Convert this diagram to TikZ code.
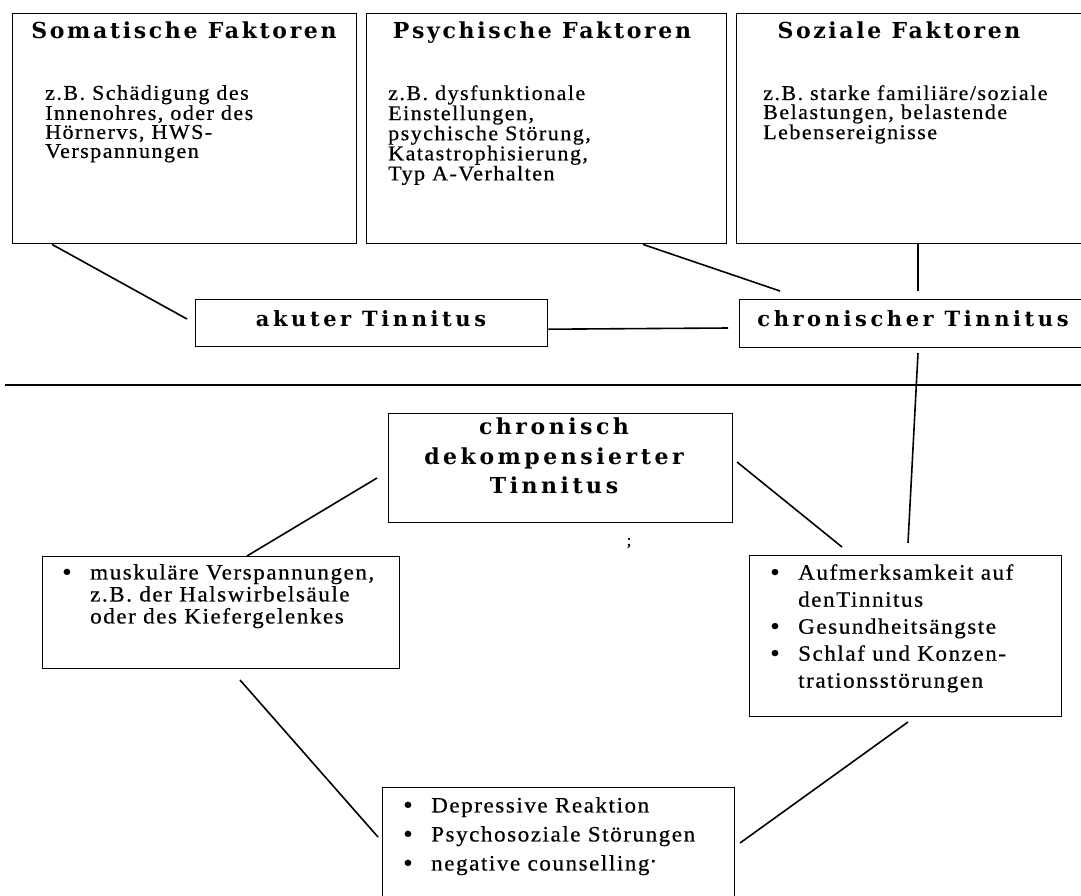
\documentclass[tikz,border=0pt]{standalone}
\usepackage{fontspec}
\newfontfamily\bodyfont[FakeStretch=1.05,LetterSpace=7,FakeBold=0.5]{Liberation Serif}
\newfontfamily\headfont[LetterSpace=12]{DejaVu Serif}
\newfontfamily\dekfont[LetterSpace=16]{DejaVu Serif}
\newfontfamily\midfont[LetterSpace=17]{DejaVu Serif}
\tikzset{
  box/.style={draw, line width=1.4pt, inner sep=0pt, anchor=north west},
  conn/.style={line width=1.6pt},
  title/.style={inner sep=0pt, anchor=base, font=\headfont\bfseries\fontsize{22}{22}\selectfont},
  boxtitle/.style={inner sep=0pt, anchor=base, font=\midfont\bfseries\fontsize{21}{21}\selectfont},
  bodytxt/.style={inner sep=0pt, anchor=north west, align=left, font=\bodyfont\fontsize{21}{19}\selectfont},
  listtxt/.style={inner sep=0pt, anchor=north west, align=left},
}
\newcommand{\bul}{\makebox[28pt][l]{\smash{\fontsize{26}{0}\selectfont\raisebox{-1pt}{\textbullet}}}}
\newcommand{\ind}{\hspace*{28pt}}
\begin{document}
\begin{tikzpicture}[x=1pt,y=-1pt]
\useasboundingbox (0,0) rectangle (1081,895);
\clip (0,0) rectangle (1081,895);
% top boxes
\node[box, minimum width=344pt, minimum height=230pt] (som) at (12,13) {};
\node[box, minimum width=360pt, minimum height=230pt] (psy) at (366,13) {};
\node[box, minimum width=360pt, minimum height=230pt] (soz) at (736,13) {};
\node[title] (somt) at (184,38) {Somatische Faktoren};
\node[title] (psyt) at (542,38) {Psychische Faktoren};
\node[title] (sozt) at (899,38) {Soziale Faktoren};
\node[bodytxt] (somb) at (45,85) {z.B. Schädigung des\\Innenohres, oder des\\Hörnervs, HWS-\\Verspannungen};
\node[bodytxt] (psyb) at (388,85) {z.B. dysfunktionale\\Einstellungen,\\psychische Störung,\\Katastrophisierung,\\Typ A-Verhalten};
\node[bodytxt] (sozb) at (763,85) {z.B. starke familiäre/soziale\\Belastungen, belastende\\Lebensereignisse};
% middle boxes
\node[box, minimum width=352pt, minimum height=47pt] (akut) at (195,299) {};
\node[box, minimum width=360pt, minimum height=48pt] (chron) at (739,299) {};
\node[boxtitle] (akutt) at (371,326) {akuter Tinnitus};
\node[boxtitle] (chront) at (913,326) {chronischer Tinnitus};
% horizontal rule
\coordinate (hl1) at (5,385);
\coordinate (hl2) at (1081,385);
\draw[conn] (hl1) -- (hl2);
% dekompensiert
\node[box, minimum width=344pt, minimum height=109pt] (dek) at (388,413) {};
\node[inner sep=0pt, anchor=north, align=center, font=\dekfont\bfseries\fontsize{22}{29.5}\selectfont] (dekt) at (554,418) {chronisch\\dekompensierter\\Tinnitus};
% bullet boxes
\node[box, minimum width=357pt, minimum height=112pt] (musk) at (42,556) {};
\node[listtxt, font=\bodyfont\fontsize{22}{22}\selectfont] (muskt) at (62,564) {\bul muskuläre Verspannungen,\\\ind z.B. der Halswirbelsäule\\\ind oder des Kiefergelenkes};
\node[box, minimum width=312pt, minimum height=161pt] (aufm) at (749,555) {};
\node[listtxt, font=\bodyfont\fontsize{22}{27}\selectfont] (aufmt) at (770,564) {\bul Aufmerksamkeit auf\\\ind denTinnitus\\\bul Gesundheitsängste\\\bul Schlaf und Konzen-\\\ind trationsstörungen};
\node[box, minimum width=352pt, minimum height=120pt] (depr) at (382,787) {};
\node[listtxt, font=\bodyfont\fontsize{22}{29}\selectfont] (deprt) at (403,797) {\bul Depressive Reaktion\\\bul Psychosoziale Störungen\\\bul negative counselling\raisebox{2pt}{\textperiodcentered}};
\node[inner sep=0pt, font=\bodyfont\fontsize{16}{16}\selectfont] (speck) at (629,543) {;};
% connectors
\coordinate (c1) at (187,319);
\coordinate (c2) at (780,291);
\coordinate (c3) at (918,291);
\coordinate (c4) at (728,328);
\coordinate (c5a) at (918,353);
\coordinate (c5b) at (908,543);
\coordinate (c7) at (377,478);
\coordinate (c8a) at (737,462);
\coordinate (c8b) at (842,547);
\coordinate (c9a) at (908,722);
\coordinate (c9b) at (740,843);
\coordinate (c10a) at (240,680);
\coordinate (c10b) at (378,837);
\draw[conn] ([xshift=40pt]som.south west) -- (c1);
\draw[conn] ([xshift=277pt]psy.south west) -- (c2);
\draw[conn] ([xshift=182pt]soz.south west) -- (c3);
\draw[conn] ([yshift=-6pt]akut.east) -- (c4);
\draw[conn] (c5a) -- (c5b);
\draw[conn] (c7) -- ([xshift=205pt]musk.north west);
\draw[conn] (c8a) -- (c8b);
\draw[conn] (c9a) -- (c9b);
\draw[conn] (c10a) -- (c10b);
\end{tikzpicture}
\end{document}
